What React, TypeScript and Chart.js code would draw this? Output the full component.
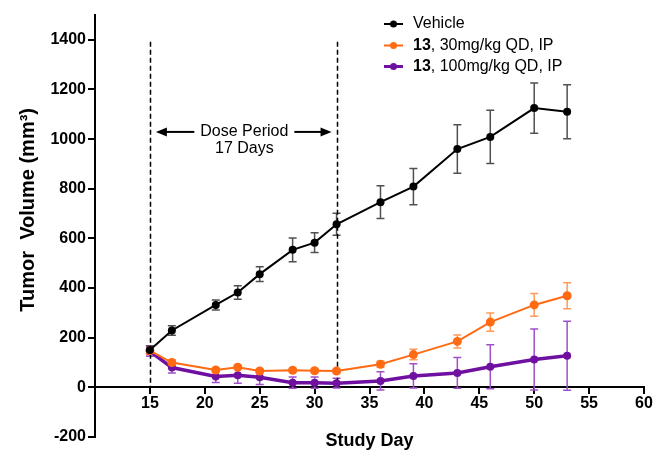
import React, { useEffect, useRef } from "react";
import { Chart, registerables } from "chart.js";

Chart.register(...registerables);

const days = [15, 17, 21, 23, 25, 28, 30, 32, 36, 39, 43, 46, 50, 53];
const vehicle = [150, 229, 332, 382, 456, 554, 583, 657, 746, 809, 960, 1009, 1125, 1110];
const vehicleErr = [18, 19, 20, 27, 30, 48, 40, 44, 66, 73, 98, 107, 101, 109];
const dose30 = [148, 100, 70, 81, 66, 69, 67, 66, 93, 132, 185, 263, 332, 369];
const dose30Err = [15, 10, 8, 8, 8, 8, 8, 8, 12, 21, 26, 37, 46, 52];
const dose100 = [145, 80, 44, 49, 41, 19, 19, 17, 26, 46, 58, 83, 112, 127];
const dose100Err = [20, 22, 24, 32, 30, 23, 23, 20, 37, 49, 62, 89, 123, 139];

const xTicks = [15, 20, 25, 30, 35, 40, 45, 50, 55, 60];
const yTicks = [-200, 0, 200, 400, 600, 800, 1000, 1200, 1400];

const doseStart = 15;
const doseEnd = 32;
const seriesNames = ["Vehicle", "30mg/kg QD, IP", "100mg/kg QD, IP"];
const compoundLabel = "13";
const annotationLines = ["Dose Period", "17 Days"];
const xTitle = "Study Day";
const yTitle = "Tumor  Volume (mm\u00B3)";

const FONT = "'Liberation Sans', Arial, sans-serif";
const colors = ["#000000", "#FF6A13", "#7010A0"];
const errColors = ["#505050", "#FF9A5A", "#A050C8"];
const errors = [vehicleErr, dose30Err, dose100Err];

const errorBarPlugin = {
  id: "errorBars",
  beforeDatasetsDraw(chart: any) {
    const ctx = chart.ctx;
    const ys = chart.scales.y;
    chart.data.datasets.forEach((ds: any, i: number) => {
      const meta = chart.getDatasetMeta(i);
      const errs = errors[i];
      ctx.save();
      ctx.strokeStyle = errColors[i];
      ctx.lineWidth = 1.5;
      meta.data.forEach((pt: any, j: number) => {
        const v = ds.data[j].y;
        const e = errs[j];
        const x = pt.x;
        const yt = ys.getPixelForValue(v + e);
        const yb = ys.getPixelForValue(v - e);
        ctx.beginPath();
        ctx.moveTo(x, yt);
        ctx.lineTo(x, yb);
        ctx.moveTo(x - 4, yt);
        ctx.lineTo(x + 4, yt);
        ctx.moveTo(x - 4, yb);
        ctx.lineTo(x + 4, yb);
        ctx.stroke();
      });
      ctx.restore();
    });
  },
};

const decorPlugin = {
  id: "decor",
  beforeDatasetsDraw(chart: any) {
    const ctx = chart.ctx;
    const xs = chart.scales.x;
    const ys = chart.scales.y;
    ctx.save();
    // dashed dose-period lines
    ctx.strokeStyle = "#000";
    ctx.lineWidth = 1.5;
    ctx.setLineDash([5, 3]);
    [doseStart, doseEnd].forEach((d) => {
      const x = Math.round(xs.getPixelForValue(d)) + 0.5;
      ctx.beginPath();
      ctx.moveTo(x, ys.getPixelForValue(1392));
      ctx.lineTo(x, ys.getPixelForValue(0));
      ctx.stroke();
    });
    ctx.setLineDash([]);
    // annotation text
    const cx = xs.getPixelForValue(23.6);
    const y1 = ys.getPixelForValue(1029);
    const y2 = ys.getPixelForValue(961);
    ctx.fillStyle = "#000";
    ctx.font = `16px ${FONT}`;
    ctx.textAlign = "center";
    ctx.textBaseline = "middle";
    ctx.fillText(annotationLines[0], cx, y1);
    ctx.fillText(annotationLines[1], cx, y2);
    const w = ctx.measureText(annotationLines[0]).width;
    const xl = xs.getPixelForValue(doseStart) + 6;
    const xr = xs.getPixelForValue(doseEnd) - 5;
    const tl = cx - w / 2 - 6;
    const tr = cx + w / 2 + 6;
    ctx.lineWidth = 2;
    // left arrow
    ctx.beginPath();
    ctx.moveTo(tl, y1);
    ctx.lineTo(xl + 9, y1);
    ctx.stroke();
    ctx.beginPath();
    ctx.moveTo(xl, y1);
    ctx.lineTo(xl + 11, y1 - 4.5);
    ctx.lineTo(xl + 11, y1 + 4.5);
    ctx.closePath();
    ctx.fill();
    // right arrow
    ctx.beginPath();
    ctx.moveTo(tr, y1);
    ctx.lineTo(xr - 9, y1);
    ctx.stroke();
    ctx.beginPath();
    ctx.moveTo(xr, y1);
    ctx.lineTo(xr - 11, y1 - 4.5);
    ctx.lineTo(xr - 11, y1 + 4.5);
    ctx.closePath();
    ctx.fill();
    ctx.restore();
  },
  afterDraw(chart: any) {
    const ctx = chart.ctx;
    const area = chart.chartArea;
    const ys = chart.scales.y;
    ctx.save();
    // axis titles
    ctx.fillStyle = "#000";
    ctx.textAlign = "center";
    ctx.textBaseline = "middle";
    ctx.font = `bold 18px ${FONT}`;
    ctx.fillText(xTitle, (area.left + area.right) / 2, ys.getPixelForValue(-200) + 4);
    ctx.save();
    ctx.translate(28, ys.getPixelForValue(715));
    ctx.rotate(-Math.PI / 2);
    ctx.font = `bold 20px ${FONT}`;
    ctx.fillText(yTitle, 0, 0);
    ctx.restore();
    // legend
    const lx = area.left + 289;
    const rows = [24, 45.5, 66.5];
    chart.data.datasets.forEach((ds: any, i: number) => {
      const y = rows[i];
      ctx.strokeStyle = colors[i];
      ctx.fillStyle = colors[i];
      ctx.lineWidth = i === 2 ? 3 : 2;
      ctx.beginPath();
      ctx.moveTo(lx, y);
      ctx.lineTo(lx + 19, y);
      ctx.stroke();
      ctx.beginPath();
      ctx.arc(lx + 9.5, y, 3.5, 0, Math.PI * 2);
      ctx.fill();
      ctx.fillStyle = "#000";
      ctx.textAlign = "left";
      ctx.textBaseline = "middle";
      let tx = lx + 29;
      if (i > 0) {
        ctx.font = `bold 16px ${FONT}`;
        ctx.fillText(compoundLabel, tx, y);
        tx += ctx.measureText(compoundLabel).width;
        ctx.font = `16px ${FONT}`;
        ctx.fillText(", " + seriesNames[i], tx, y);
      } else {
        ctx.font = `16px ${FONT}`;
        ctx.fillText(seriesNames[i], tx, y);
      }
    });
    ctx.restore();
  },
};

export default function App() {
  const ref = useRef<HTMLCanvasElement | null>(null);
  useEffect(() => {
    if (!ref.current) return;
    const mk = (vals: number[]) => days.map((d, i) => ({ x: d, y: vals[i] }));
    const chart = new Chart(ref.current, {
      type: "line",
      data: {
        datasets: [
          {
            label: seriesNames[0],
            data: mk(vehicle),
            borderColor: colors[0],
            backgroundColor: colors[0],
            borderWidth: 2,
            pointRadius: 4,
            pointBorderWidth: 0,
          },
          {
            label: seriesNames[1],
            data: mk(dose30),
            borderColor: colors[1],
            backgroundColor: colors[1],
            borderWidth: 2,
            pointRadius: 4.5,
            pointBorderWidth: 0,
          },
          {
            label: seriesNames[2],
            data: mk(dose100),
            borderColor: colors[2],
            backgroundColor: colors[2],
            borderWidth: 3.5,
            pointRadius: 4,
            pointBorderWidth: 0,
          },
        ],
      },
      options: {
        responsive: false,
        animation: false,
        devicePixelRatio: 1,
        layout: { padding: { left: 0, top: 15, right: 11, bottom: 14 } },
        plugins: {
          legend: { display: false },
          tooltip: { enabled: false },
          title: { display: false },
        },
        scales: {
          x: {
            type: "linear",
            min: 10,
            max: 60,
            position: { y: 0 } as any,
            afterBuildTicks: (s: any) => {
              s.ticks = xTicks.map((v) => ({ value: v }));
            },
            grid: {
              drawOnChartArea: false,
              drawTicks: true,
              tickLength: 6,
              color: "#000",
              lineWidth: 2,
            },
            border: { display: true, color: "#000", width: 2 },
            ticks: {
              color: "#000",
              padding: 1,
              maxRotation: 0,
              callback: (v: any) => String(v),
              font: { family: FONT, size: 16, weight: "bold" },
            },
          },
          y: {
            type: "linear",
            min: -200,
            max: 1500,
            position: "left",
            afterFit: (s: any) => {
              s.width = 95;
            },
            afterBuildTicks: (s: any) => {
              s.ticks = yTicks.map((v) => ({ value: v }));
            },
            grid: {
              drawOnChartArea: false,
              drawTicks: true,
              tickLength: 7,
              color: "#000",
              lineWidth: 2,
            },
            border: { display: true, color: "#000", width: 2 },
            ticks: {
              color: "#000",
              padding: 2,
              callback: (v: any) => String(v),
              font: { family: FONT, size: 16, weight: "bold" },
            },
          },
        },
      },
      plugins: [errorBarPlugin, decorPlugin],
    });
    return () => chart.destroy();
  }, []);
  return (
    <div style={{ position: "fixed", left: 0, top: 0, width: 655, height: 451 }}>
      <canvas ref={ref} width={655} height={451} style={{ display: "block" }} />
    </div>
  );
}
